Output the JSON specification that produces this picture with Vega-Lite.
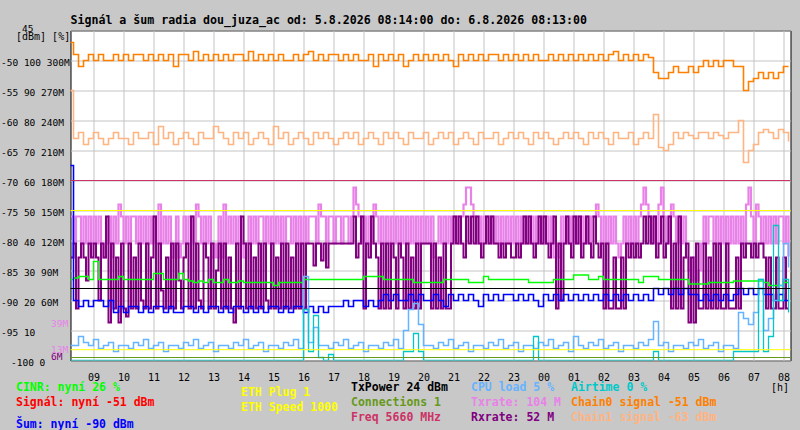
{
  "$schema": "https://vega.github.io/schema/vega-lite/v6.json",
  "width": 720,
  "height": 330,
  "autosize": "none",
  "padding": {"left": 70.5, "top": 30.5, "right": 9.5, "bottom": 69.5},
  "background": "#c8c8c8",
  "title": {
    "text": "Signál a šum radia dou_juza_ac od: 5.8.2026 08:14:00 do: 6.8.2026 08:13:00",
    "anchor": "start",
    "frame": "group",
    "font": "DejaVu Sans Mono",
    "fontSize": 11.6,
    "fontWeight": "bold",
    "color": "#000000",
    "baseline": "alphabetic",
    "offset": 7,
    "dy": 19
  },
  "config": {
    "view": {"fill": "#ffffff", "stroke": "#000000"},
    "axis": {"labelFont": "DejaVu Sans Mono", "titleFont": "DejaVu Sans Mono", "labelColor": "#000000", "labelFlush": false, "labelOverlap": false, "labelBound": false}
  },
  "datasets": {
    "sig": [
      {"m":494,"c0":-47,"c1":-55,"ci":27,"n":-67.5,"cpu":5,"air":0},
      {"m":500,"c0":-49,"c1":-63,"ci":27.5,"n":-90,"cpu":5,"air":0},
      {"m":510,"c0":-51,"c1":-62,"ci":28,"n":-91,"cpu":8,"air":0},
      {"m":520,"c0":-50,"c1":-64,"ci":28,"n":-90,"cpu":6,"air":0},
      {"m":530,"c0":-49,"c1":-63,"ci":27,"n":-91,"cpu":5,"air":0},
      {"m":540,"c0":-50,"c1":-62,"ci":33,"n":-90,"cpu":7,"air":0},
      {"m":550,"c0":-49,"c1":-63,"ci":27,"n":-90,"cpu":4,"air":0},
      {"m":560,"c0":-50,"c1":-64,"ci":27,"n":-91,"cpu":5,"air":0},
      {"m":570,"c0":-50,"c1":-63,"ci":27,"n":-90,"cpu":6,"air":0},
      {"m":580,"c0":-49,"c1":-62,"ci":27,"n":-92,"cpu":3,"air":0},
      {"m":590,"c0":-50,"c1":-63,"ci":28,"n":-91,"cpu":5,"air":0},
      {"m":600,"c0":-49,"c1":-63,"ci":27,"n":-92,"cpu":5,"air":0},
      {"m":610,"c0":-50,"c1":-64,"ci":27,"n":-91,"cpu":4,"air":0},
      {"m":620,"c0":-49,"c1":-62,"ci":27,"n":-91,"cpu":6,"air":0},
      {"m":630,"c0":-49,"c1":-63,"ci":27,"n":-92,"cpu":5,"air":0},
      {"m":640,"c0":-50,"c1":-63,"ci":27,"n":-91,"cpu":7,"air":0},
      {"m":650,"c0":-49,"c1":-62,"ci":27,"n":-92,"cpu":4,"air":0},
      {"m":660,"c0":-50,"c1":-64,"ci":29,"n":-91,"cpu":5,"air":0},
      {"m":670,"c0":-49,"c1":-61,"ci":29,"n":-91,"cpu":6,"air":0},
      {"m":680,"c0":-50,"c1":-63,"ci":27,"n":-92,"cpu":3,"air":0},
      {"m":690,"c0":-49,"c1":-62,"ci":27,"n":-91,"cpu":5,"air":0},
      {"m":700,"c0":-51,"c1":-64,"ci":27,"n":-92,"cpu":5,"air":0},
      {"m":710,"c0":-49,"c1":-63,"ci":29,"n":-92,"cpu":4,"air":0},
      {"m":720,"c0":-49,"c1":-62,"ci":27,"n":-91,"cpu":6,"air":0},
      {"m":730,"c0":-50,"c1":-63,"ci":26.5,"n":-91,"cpu":5,"air":0},
      {"m":740,"c0":-48.5,"c1":-64,"ci":26,"n":-92,"cpu":7,"air":0},
      {"m":750,"c0":-50,"c1":-62,"ci":26.5,"n":-91,"cpu":4,"air":0},
      {"m":760,"c0":-49,"c1":-63,"ci":26,"n":-92,"cpu":5,"air":0},
      {"m":770,"c0":-50,"c1":-63,"ci":27,"n":-91,"cpu":6,"air":0},
      {"m":780,"c0":-49,"c1":-61,"ci":26,"n":-91,"cpu":3,"air":0},
      {"m":790,"c0":-50,"c1":-62,"ci":26,"n":-92,"cpu":5,"air":0},
      {"m":800,"c0":-49,"c1":-63,"ci":27,"n":-91,"cpu":5,"air":0},
      {"m":810,"c0":-50,"c1":-64,"ci":26,"n":-92,"cpu":4,"air":0},
      {"m":820,"c0":-49,"c1":-62,"ci":26,"n":-91,"cpu":6,"air":0},
      {"m":830,"c0":-49,"c1":-63,"ci":26.5,"n":-91,"cpu":5,"air":0},
      {"m":840,"c0":-50,"c1":-62,"ci":26,"n":-92,"cpu":7,"air":0},
      {"m":850,"c0":-48.5,"c1":-64,"ci":26,"n":-91,"cpu":4,"air":0},
      {"m":860,"c0":-50,"c1":-63,"ci":26,"n":-92,"cpu":5,"air":0},
      {"m":870,"c0":-49,"c1":-62,"ci":26,"n":-91,"cpu":6,"air":0},
      {"m":880,"c0":-50,"c1":-63,"ci":26,"n":-92,"cpu":3,"air":0},
      {"m":890,"c0":-49,"c1":-64,"ci":26,"n":-91,"cpu":5,"air":0},
      {"m":900,"c0":-50,"c1":-61,"ci":25,"n":-91,"cpu":5,"air":0},
      {"m":910,"c0":-49,"c1":-63,"ci":26,"n":-92,"cpu":4,"air":0},
      {"m":920,"c0":-50,"c1":-62,"ci":26,"n":-91,"cpu":6,"air":0},
      {"m":930,"c0":-50,"c1":-64,"ci":26,"n":-92,"cpu":5,"air":0},
      {"m":940,"c0":-49,"c1":-63,"ci":26,"n":-91,"cpu":7,"air":0},
      {"m":950,"c0":-50,"c1":-62,"ci":26,"n":-91,"cpu":4,"air":0},
      {"m":960,"c0":-49,"c1":-63,"ci":27,"n":-92,"cpu":28,"air":17},
      {"m":970,"c0":-48.5,"c1":-64,"ci":27,"n":-91,"cpu":6,"air":3},
      {"m":980,"c0":-50,"c1":-62,"ci":27,"n":-92,"cpu":11,"air":15},
      {"m":990,"c0":-49,"c1":-63,"ci":27,"n":-91,"cpu":5,"air":1},
      {"m":1000,"c0":-50,"c1":-62,"ci":27,"n":-92,"cpu":5,"air":0},
      {"m":1010,"c0":-49,"c1":-63,"ci":27,"n":-91,"cpu":4,"air":2},
      {"m":1020,"c0":-49,"c1":-64,"ci":27,"n":-91,"cpu":6,"air":0},
      {"m":1030,"c0":-50,"c1":-63,"ci":27,"n":-91,"cpu":5,"air":0},
      {"m":1040,"c0":-49,"c1":-62,"ci":27,"n":-90,"cpu":7,"air":0},
      {"m":1050,"c0":-50,"c1":-63,"ci":27,"n":-91,"cpu":4,"air":0},
      {"m":1060,"c0":-49,"c1":-62,"ci":27,"n":-90,"cpu":5,"air":0},
      {"m":1070,"c0":-50,"c1":-64,"ci":27,"n":-90,"cpu":6,"air":0},
      {"m":1080,"c0":-50,"c1":-63,"ci":28,"n":-91,"cpu":3,"air":0},
      {"m":1090,"c0":-49,"c1":-62,"ci":28,"n":-90,"cpu":5,"air":0},
      {"m":1100,"c0":-51,"c1":-63,"ci":28,"n":-91,"cpu":5,"air":0},
      {"m":1110,"c0":-49,"c1":-64,"ci":28,"n":-90,"cpu":4,"air":0},
      {"m":1120,"c0":-50,"c1":-62,"ci":27,"n":-89,"cpu":6,"air":0},
      {"m":1130,"c0":-49,"c1":-63,"ci":27,"n":-90,"cpu":5,"air":0},
      {"m":1140,"c0":-50,"c1":-62,"ci":27,"n":-89,"cpu":7,"air":0},
      {"m":1150,"c0":-49,"c1":-63,"ci":27,"n":-90,"cpu":4,"air":0},
      {"m":1160,"c0":-51,"c1":-64,"ci":27,"n":-90,"cpu":10,"air":3},
      {"m":1170,"c0":-50,"c1":-62,"ci":27,"n":-89,"cpu":17,"air":3},
      {"m":1180,"c0":-49,"c1":-63,"ci":26,"n":-90,"cpu":19,"air":9},
      {"m":1190,"c0":-50,"c1":-63,"ci":26,"n":-89,"cpu":12,"air":3},
      {"m":1200,"c0":-49,"c1":-62,"ci":26,"n":-90,"cpu":5,"air":0},
      {"m":1210,"c0":-50,"c1":-64,"ci":26,"n":-90,"cpu":5,"air":0},
      {"m":1220,"c0":-49,"c1":-63,"ci":26,"n":-89,"cpu":4,"air":0},
      {"m":1230,"c0":-50,"c1":-62,"ci":26,"n":-90,"cpu":6,"air":0},
      {"m":1240,"c0":-49,"c1":-63,"ci":27,"n":-91,"cpu":5,"air":0},
      {"m":1250,"c0":-50,"c1":-62,"ci":27,"n":-89,"cpu":7,"air":0},
      {"m":1260,"c0":-51,"c1":-64,"ci":27,"n":-90,"cpu":4,"air":0},
      {"m":1270,"c0":-49,"c1":-63,"ci":27,"n":-89,"cpu":5,"air":0},
      {"m":1280,"c0":-50,"c1":-62,"ci":27,"n":-90,"cpu":6,"air":0},
      {"m":1290,"c0":-49,"c1":-63,"ci":26,"n":-89,"cpu":3,"air":0},
      {"m":1300,"c0":-50,"c1":-64,"ci":26,"n":-90,"cpu":5,"air":0},
      {"m":1310,"c0":-49,"c1":-62,"ci":26,"n":-91,"cpu":5,"air":0},
      {"m":1320,"c0":-50,"c1":-63,"ci":28,"n":-89,"cpu":4,"air":0},
      {"m":1330,"c0":-49,"c1":-63,"ci":27,"n":-90,"cpu":6,"air":0},
      {"m":1340,"c0":-49,"c1":-62,"ci":27,"n":-89,"cpu":5,"air":0},
      {"m":1350,"c0":-50,"c1":-64,"ci":27,"n":-90,"cpu":7,"air":0},
      {"m":1360,"c0":-49,"c1":-63,"ci":27,"n":-89,"cpu":4,"air":0},
      {"m":1370,"c0":-50,"c1":-62,"ci":27,"n":-89,"cpu":5,"air":0},
      {"m":1380,"c0":-49,"c1":-63,"ci":27,"n":-90,"cpu":6,"air":0},
      {"m":1390,"c0":-50,"c1":-62,"ci":27,"n":-89,"cpu":3,"air":0},
      {"m":1400,"c0":-49,"c1":-63,"ci":27,"n":-90,"cpu":5,"air":0},
      {"m":1410,"c0":-50,"c1":-64,"ci":26,"n":-89,"cpu":5,"air":0},
      {"m":1420,"c0":-49,"c1":-62,"ci":26,"n":-90,"cpu":4,"air":8},
      {"m":1430,"c0":-50,"c1":-63,"ci":26,"n":-91,"cpu":6,"air":0},
      {"m":1440,"c0":-50,"c1":-62,"ci":26,"n":-89,"cpu":5,"air":0},
      {"m":1450,"c0":-49,"c1":-63,"ci":26,"n":-90,"cpu":7,"air":0},
      {"m":1460,"c0":-50,"c1":-64,"ci":27,"n":-89,"cpu":4,"air":0},
      {"m":1470,"c0":-49,"c1":-63,"ci":27,"n":-90,"cpu":5,"air":0},
      {"m":1480,"c0":-50,"c1":-62,"ci":27,"n":-89,"cpu":6,"air":0},
      {"m":1490,"c0":-49,"c1":-63,"ci":27,"n":-90,"cpu":3,"air":0},
      {"m":1500,"c0":-50,"c1":-62,"ci":28.5,"n":-89,"cpu":8,"air":0},
      {"m":1510,"c0":-49,"c1":-63,"ci":28.5,"n":-90,"cpu":5,"air":0},
      {"m":1520,"c0":-50,"c1":-64,"ci":28.5,"n":-89,"cpu":4,"air":0},
      {"m":1530,"c0":-49,"c1":-62,"ci":27,"n":-90,"cpu":6,"air":0},
      {"m":1540,"c0":-50,"c1":-63,"ci":27,"n":-89,"cpu":5,"air":0},
      {"m":1550,"c0":-49,"c1":-62,"ci":28,"n":-90,"cpu":7,"air":0},
      {"m":1560,"c0":-50,"c1":-63,"ci":27,"n":-89,"cpu":4,"air":0},
      {"m":1570,"c0":-49,"c1":-64,"ci":27,"n":-90,"cpu":5,"air":0},
      {"m":1580,"c0":-48.5,"c1":-62,"ci":27,"n":-89,"cpu":6,"air":0},
      {"m":1590,"c0":-50,"c1":-63,"ci":27,"n":-90,"cpu":3,"air":0},
      {"m":1600,"c0":-49,"c1":-63,"ci":27,"n":-89,"cpu":5,"air":0},
      {"m":1610,"c0":-50,"c1":-62,"ci":27,"n":-90,"cpu":5,"air":0},
      {"m":1620,"c0":-49,"c1":-64,"ci":27,"n":-89,"cpu":4,"air":0},
      {"m":1630,"c0":-50,"c1":-63,"ci":26,"n":-90,"cpu":6,"air":0},
      {"m":1640,"c0":-49,"c1":-62,"ci":28,"n":-89,"cpu":5,"air":0},
      {"m":1650,"c0":-49.5,"c1":-63,"ci":28,"n":-90,"cpu":7,"air":0},
      {"m":1660,"c0":-52,"c1":-59,"ci":28,"n":-88,"cpu":13,"air":3},
      {"m":1670,"c0":-53,"c1":-64.5,"ci":27,"n":-89,"cpu":5,"air":0},
      {"m":1680,"c0":-53,"c1":-65,"ci":27,"n":-88,"cpu":6,"air":0},
      {"m":1690,"c0":-52,"c1":-64,"ci":27,"n":-89,"cpu":3,"air":0},
      {"m":1700,"c0":-51,"c1":-62,"ci":27,"n":-88,"cpu":5,"air":0},
      {"m":1710,"c0":-52,"c1":-63,"ci":27,"n":-89,"cpu":5,"air":0},
      {"m":1720,"c0":-52,"c1":-62,"ci":27,"n":-88,"cpu":4,"air":0},
      {"m":1730,"c0":-51,"c1":-62.5,"ci":25.5,"n":-89,"cpu":6,"air":0},
      {"m":1740,"c0":-52,"c1":-63,"ci":25.5,"n":-89,"cpu":5,"air":0},
      {"m":1750,"c0":-51,"c1":-62,"ci":25.5,"n":-90,"cpu":7,"air":0},
      {"m":1760,"c0":-50,"c1":-62,"ci":25.5,"n":-89,"cpu":4,"air":0},
      {"m":1770,"c0":-51,"c1":-63,"ci":26,"n":-90,"cpu":5,"air":0},
      {"m":1780,"c0":-50,"c1":-62,"ci":26,"n":-89,"cpu":6,"air":0},
      {"m":1790,"c0":-51,"c1":-62.5,"ci":26,"n":-90,"cpu":3,"air":0},
      {"m":1800,"c0":-50,"c1":-63,"ci":26,"n":-89,"cpu":5,"air":0},
      {"m":1810,"c0":-50,"c1":-62,"ci":26,"n":-90,"cpu":5,"air":0},
      {"m":1820,"c0":-51,"c1":-62,"ci":26.5,"n":-89,"cpu":4,"air":3},
      {"m":1830,"c0":-51,"c1":-60,"ci":26.5,"n":-88,"cpu":16,"air":3},
      {"m":1840,"c0":-55,"c1":-67,"ci":26.5,"n":-89,"cpu":14,"air":3},
      {"m":1850,"c0":-53.5,"c1":-65,"ci":26.5,"n":-88,"cpu":12,"air":3},
      {"m":1860,"c0":-53,"c1":-64,"ci":26.5,"n":-89,"cpu":16,"air":3},
      {"m":1870,"c0":-52,"c1":-62,"ci":26.5,"n":-88,"cpu":27,"air":27},
      {"m":1880,"c0":-53,"c1":-61.5,"ci":26,"n":-89,"cpu":10,"air":3},
      {"m":1890,"c0":-52,"c1":-62,"ci":25,"n":-89,"cpu":14,"air":8},
      {"m":1900,"c0":-53,"c1":-63,"ci":25,"n":-90,"cpu":20,"air":45},
      {"m":1910,"c0":-52,"c1":-61.5,"ci":25,"n":-89,"cpu":25,"air":20},
      {"m":1920,"c0":-51,"c1":-62,"ci":26,"n":-90,"cpu":39,"air":27},
      {"m":1930,"c0":-51,"c1":-63.5,"ci":26,"n":-90,"cpu":31,"air":16}
    ],
    "rate": [
      {"m":495,"tx":144,"rx":103},{"m":500,"tx":117,"rx":117},{"m":505,"tx":144,"rx":52},{"m":510,"tx":144,"rx":103},
      {"m":515,"tx":117,"rx":117},{"m":520,"tx":144,"rx":103},{"m":525,"tx":117,"rx":80},{"m":530,"tx":144,"rx":117},
      {"m":535,"tx":117,"rx":103},{"m":540,"tx":144,"rx":117},{"m":545,"tx":117,"rx":103},{"m":550,"tx":144,"rx":60},
      {"m":555,"tx":117,"rx":117},{"m":560,"tx":103,"rx":103},{"m":565,"tx":117,"rx":144},{"m":570,"tx":144,"rx":38},
      {"m":575,"tx":103,"rx":117},{"m":580,"tx":144,"rx":52},{"m":585,"tx":117,"rx":103},{"m":590,"tx":156,"rx":38},
      {"m":595,"tx":144,"rx":117},{"m":600,"tx":117,"rx":52},{"m":605,"tx":144,"rx":44},{"m":610,"tx":117,"rx":117},
      {"m":615,"tx":144,"rx":52},{"m":620,"tx":144,"rx":103},{"m":625,"tx":117,"rx":52},{"m":630,"tx":144,"rx":117},
      {"m":635,"tx":117,"rx":60},{"m":640,"tx":144,"rx":52},{"m":645,"tx":117,"rx":117},{"m":650,"tx":144,"rx":52},
      {"m":655,"tx":117,"rx":103},{"m":660,"tx":144,"rx":144},{"m":665,"tx":117,"rx":52},{"m":670,"tx":156,"rx":117},
      {"m":675,"tx":117,"rx":70},{"m":680,"tx":144,"rx":52},{"m":685,"tx":117,"rx":103},{"m":690,"tx":144,"rx":52},
      {"m":695,"tx":103,"rx":117},{"m":700,"tx":117,"rx":52},{"m":705,"tx":144,"rx":117},{"m":710,"tx":103,"rx":80},
      {"m":715,"tx":117,"rx":52},{"m":720,"tx":144,"rx":103},{"m":725,"tx":117,"rx":117},{"m":730,"tx":144,"rx":52},
      {"m":735,"tx":144,"rx":144},{"m":740,"tx":117,"rx":52},{"m":745,"tx":156,"rx":117},{"m":750,"tx":144,"rx":60},
      {"m":755,"tx":117,"rx":52},{"m":760,"tx":144,"rx":117},{"m":765,"tx":117,"rx":103},{"m":770,"tx":144,"rx":52},
      {"m":775,"tx":103,"rx":117},{"m":780,"tx":117,"rx":52},{"m":785,"tx":103,"rx":90},{"m":790,"tx":144,"rx":117},
      {"m":795,"tx":103,"rx":52},{"m":800,"tx":156,"rx":117},{"m":805,"tx":117,"rx":52},{"m":810,"tx":144,"rx":103},
      {"m":815,"tx":117,"rx":52},{"m":820,"tx":144,"rx":38},{"m":825,"tx":117,"rx":117},{"m":830,"tx":144,"rx":52},
      {"m":835,"tx":117,"rx":144},{"m":840,"tx":103,"rx":117},{"m":845,"tx":117,"rx":52},{"m":850,"tx":144,"rx":117},
      {"m":855,"tx":117,"rx":52},{"m":860,"tx":144,"rx":103},{"m":865,"tx":117,"rx":52},{"m":870,"tx":144,"rx":117},
      {"m":875,"tx":144,"rx":52},{"m":880,"tx":117,"rx":117},{"m":885,"tx":144,"rx":60},{"m":890,"tx":117,"rx":52},
      {"m":895,"tx":144,"rx":117},{"m":900,"tx":117,"rx":52},{"m":905,"tx":144,"rx":103},{"m":910,"tx":117,"rx":52},
      {"m":915,"tx":144,"rx":117},{"m":920,"tx":117,"rx":52},{"m":925,"tx":144,"rx":117},{"m":930,"tx":144,"rx":52},
      {"m":935,"tx":117,"rx":103},{"m":940,"tx":144,"rx":52},{"m":945,"tx":117,"rx":117},{"m":950,"tx":144,"rx":52},
      {"m":955,"tx":117,"rx":117},{"m":960,"tx":144,"rx":52},{"m":965,"tx":117,"rx":117},{"m":970,"tx":144,"rx":117},
      {"m":975,"tx":144,"rx":117},{"m":980,"tx":144,"rx":95},{"m":985,"tx":117,"rx":117},{"m":990,"tx":156,"rx":117},
      {"m":995,"tx":144,"rx":100},{"m":1000,"tx":144,"rx":117},{"m":1005,"tx":117,"rx":93},{"m":1010,"tx":144,"rx":117},
      {"m":1015,"tx":144,"rx":117},{"m":1020,"tx":117,"rx":117},{"m":1025,"tx":144,"rx":117},{"m":1030,"tx":144,"rx":117},
      {"m":1035,"tx":117,"rx":117},{"m":1040,"tx":144,"rx":117},{"m":1045,"tx":144,"rx":117},{"m":1050,"tx":117,"rx":117},
      {"m":1055,"tx":144,"rx":117},{"m":1060,"tx":173,"rx":144},{"m":1065,"tx":156,"rx":103},{"m":1070,"tx":144,"rx":117},
      {"m":1075,"tx":117,"rx":144},{"m":1080,"tx":144,"rx":52},{"m":1085,"tx":117,"rx":117},{"m":1090,"tx":144,"rx":103},
      {"m":1095,"tx":117,"rx":144},{"m":1100,"tx":156,"rx":117},{"m":1105,"tx":144,"rx":103},{"m":1110,"tx":117,"rx":52},
      {"m":1115,"tx":144,"rx":117},{"m":1120,"tx":117,"rx":52},{"m":1125,"tx":144,"rx":117},{"m":1130,"tx":117,"rx":52},
      {"m":1135,"tx":144,"rx":117},{"m":1140,"tx":117,"rx":103},{"m":1145,"tx":144,"rx":52},{"m":1150,"tx":117,"rx":117},
      {"m":1155,"tx":144,"rx":103},{"m":1160,"tx":117,"rx":52},{"m":1165,"tx":144,"rx":117},{"m":1170,"tx":117,"rx":52},
      {"m":1175,"tx":144,"rx":103},{"m":1180,"tx":117,"rx":52},{"m":1185,"tx":144,"rx":117},{"m":1190,"tx":117,"rx":52},
      {"m":1195,"tx":144,"rx":117},{"m":1200,"tx":117,"rx":117},{"m":1205,"tx":144,"rx":117},{"m":1210,"tx":117,"rx":117},
      {"m":1215,"tx":144,"rx":52},{"m":1220,"tx":103,"rx":117},{"m":1225,"tx":117,"rx":52},{"m":1230,"tx":144,"rx":103},
      {"m":1235,"tx":117,"rx":52},{"m":1240,"tx":144,"rx":117},{"m":1245,"tx":117,"rx":52},{"m":1250,"tx":144,"rx":52},
      {"m":1255,"tx":117,"rx":117},{"m":1260,"tx":144,"rx":144},{"m":1265,"tx":144,"rx":117},{"m":1270,"tx":117,"rx":144},
      {"m":1275,"tx":144,"rx":117},{"m":1280,"tx":156,"rx":103},{"m":1285,"tx":173,"rx":144},{"m":1290,"tx":173,"rx":117},
      {"m":1295,"tx":156,"rx":144},{"m":1300,"tx":144,"rx":117},{"m":1305,"tx":117,"rx":144},{"m":1310,"tx":144,"rx":117},
      {"m":1315,"tx":117,"rx":103},{"m":1320,"tx":144,"rx":117},{"m":1325,"tx":144,"rx":144},{"m":1330,"tx":117,"rx":117},
      {"m":1335,"tx":144,"rx":144},{"m":1340,"tx":117,"rx":117},{"m":1345,"tx":144,"rx":117},{"m":1350,"tx":117,"rx":103},
      {"m":1355,"tx":144,"rx":117},{"m":1360,"tx":117,"rx":103},{"m":1365,"tx":144,"rx":117},{"m":1370,"tx":117,"rx":117},
      {"m":1375,"tx":144,"rx":103},{"m":1380,"tx":117,"rx":103},{"m":1385,"tx":144,"rx":117},{"m":1390,"tx":117,"rx":103},
      {"m":1395,"tx":144,"rx":117},{"m":1400,"tx":117,"rx":144},{"m":1405,"tx":144,"rx":117},{"m":1410,"tx":117,"rx":144},
      {"m":1415,"tx":144,"rx":117},{"m":1420,"tx":117,"rx":103},{"m":1425,"tx":144,"rx":117},{"m":1430,"tx":117,"rx":144},
      {"m":1435,"tx":144,"rx":117},{"m":1440,"tx":117,"rx":144},{"m":1445,"tx":144,"rx":117},{"m":1450,"tx":117,"rx":103},
      {"m":1455,"tx":144,"rx":117},{"m":1460,"tx":103,"rx":144},{"m":1465,"tx":117,"rx":52},{"m":1470,"tx":103,"rx":117},
      {"m":1475,"tx":144,"rx":60},{"m":1480,"tx":117,"rx":117},{"m":1485,"tx":144,"rx":144},{"m":1490,"tx":117,"rx":117},
      {"m":1495,"tx":144,"rx":103},{"m":1500,"tx":117,"rx":144},{"m":1505,"tx":144,"rx":117},{"m":1510,"tx":117,"rx":144},
      {"m":1515,"tx":144,"rx":103},{"m":1520,"tx":117,"rx":117},{"m":1525,"tx":144,"rx":144},{"m":1530,"tx":117,"rx":117},
      {"m":1535,"tx":144,"rx":103},{"m":1540,"tx":144,"rx":144},{"m":1545,"tx":156,"rx":117},{"m":1550,"tx":144,"rx":103},
      {"m":1555,"tx":117,"rx":117},{"m":1560,"tx":144,"rx":52},{"m":1565,"tx":117,"rx":117},{"m":1570,"tx":144,"rx":52},
      {"m":1575,"tx":117,"rx":52},{"m":1580,"tx":144,"rx":103},{"m":1585,"tx":117,"rx":52},{"m":1590,"tx":103,"rx":52},
      {"m":1595,"tx":117,"rx":103},{"m":1600,"tx":144,"rx":52},{"m":1605,"tx":117,"rx":117},{"m":1610,"tx":144,"rx":103},
      {"m":1615,"tx":117,"rx":117},{"m":1620,"tx":144,"rx":103},{"m":1625,"tx":117,"rx":117},{"m":1630,"tx":144,"rx":103},
      {"m":1635,"tx":156,"rx":117},{"m":1640,"tx":173,"rx":144},{"m":1645,"tx":156,"rx":117},{"m":1650,"tx":144,"rx":144},
      {"m":1655,"tx":117,"rx":117},{"m":1660,"tx":144,"rx":144},{"m":1665,"tx":117,"rx":103},{"m":1670,"tx":156,"rx":117},
      {"m":1675,"tx":173,"rx":144},{"m":1680,"tx":144,"rx":103},{"m":1685,"tx":117,"rx":117},{"m":1690,"tx":144,"rx":144},
      {"m":1695,"tx":156,"rx":52},{"m":1700,"tx":144,"rx":117},{"m":1705,"tx":117,"rx":52},{"m":1710,"tx":144,"rx":144},
      {"m":1715,"tx":117,"rx":52},{"m":1720,"tx":144,"rx":103},{"m":1725,"tx":103,"rx":117},{"m":1730,"tx":90,"rx":38},
      {"m":1735,"tx":80,"rx":103},{"m":1740,"tx":103,"rx":38},{"m":1745,"tx":80,"rx":117},{"m":1750,"tx":90,"rx":52},
      {"m":1755,"tx":117,"rx":52},{"m":1760,"tx":144,"rx":117},{"m":1765,"tx":117,"rx":52},{"m":1770,"tx":144,"rx":103},
      {"m":1775,"tx":144,"rx":52},{"m":1780,"tx":117,"rx":117},{"m":1785,"tx":144,"rx":52},{"m":1790,"tx":117,"rx":117},
      {"m":1795,"tx":144,"rx":52},{"m":1800,"tx":117,"rx":52},{"m":1805,"tx":144,"rx":117},{"m":1810,"tx":117,"rx":52},
      {"m":1815,"tx":144,"rx":52},{"m":1820,"tx":117,"rx":52},{"m":1825,"tx":144,"rx":103},{"m":1830,"tx":117,"rx":52},
      {"m":1835,"tx":144,"rx":117},{"m":1840,"tx":117,"rx":103},{"m":1845,"tx":156,"rx":117},{"m":1850,"tx":173,"rx":117},
      {"m":1855,"tx":144,"rx":103},{"m":1860,"tx":117,"rx":117},{"m":1865,"tx":156,"rx":103},{"m":1870,"tx":144,"rx":117},
      {"m":1875,"tx":117,"rx":117},{"m":1880,"tx":144,"rx":103},{"m":1885,"tx":117,"rx":52},{"m":1890,"tx":144,"rx":103},
      {"m":1895,"tx":117,"rx":52},{"m":1900,"tx":144,"rx":52},{"m":1905,"tx":117,"rx":103},{"m":1910,"tx":144,"rx":52},
      {"m":1915,"tx":144,"rx":52},{"m":1920,"tx":117,"rx":103},{"m":1925,"tx":144,"rx":52},{"m":1930,"tx":104,"rx":52}
    ],
    "lines": [
      {"k":"Freq","p":60},
      {"k":"ETH Speed","p":50},
      {"k":"TxPower","p":24},
      {"k":"ETH Plug","p":3.6},
      {"k":"Connections","p":1}
    ]
  },
  "layer": [
    {
      "data": {"name": "sig"},
      "mark": {"type": "line", "interpolate": "step-after", "color": "#ffb482", "strokeWidth": 1.6},
      "encoding": {
        "x": {"field": "m", "type": "quantitative", "scale": {"domain": [494, 1934], "nice": false, "zero": false},
          "axis": {"orient": "bottom", "offset": 27, "values": [495, 1054, 1294, 1494, 1894],
            "labelExpr": "datum.value == 495 ? 'CINR: nyní 26 %' : datum.value == 1054 ? 'TxPower 24 dBm' : datum.value == 1294 ? 'CPU load 5 %' : datum.value == 1494 ? 'Airtime 0 %' : '[h]'",
            "labelColor": {"condition": [{"test": "datum.value == 495", "value": "#00ff00"}, {"test": "datum.value == 1294", "value": "#66b3ff"}, {"test": "datum.value == 1494", "value": "#00c8c8"}], "value": "#000000"},
            "labelFontWeight": {"condition": {"test": "datum.value == 1894", "value": "normal"}, "value": "bold"},
            "labelFontSize": {"condition": {"test": "datum.value == 1894", "value": 10}, "value": 11.5},
            "labelOffset": {"condition": {"test": "datum.value == 495", "value": -55.5}, "value": 0},
            "labelAlign": "left", "labelBaseline": "middle", "labelPadding": 0,
            "grid": false, "domain": false, "ticks": false, "tickSize": 0, "title": null}},
        "y": {"field": "c1", "type": "quantitative", "scale": {"domain": [-100, -45], "nice": false, "zero": false}, "axis": null}
      }
    },
    {
      "data": {"name": "sig"},
      "mark": {"type": "line", "interpolate": "step-after", "color": "#ff8000", "strokeWidth": 1.6},
      "encoding": {
        "x": {"field": "m", "type": "quantitative", "scale": {"domain": [494, 1934], "nice": false, "zero": false},
          "axis": {"orient": "bottom", "values": [540, 600, 660, 720, 780, 840, 900, 960, 1020, 1080, 1140, 1200, 1260, 1320, 1380, 1440, 1500, 1560, 1620, 1680, 1740, 1800, 1860, 1920],
            "labelExpr": "(floor(datum.value / 60) % 24 < 10 ? '0' : '') + floor(datum.value / 60) % 24",
            "labelFontSize": 10, "labelBaseline": "middle", "labelPadding": 17,
            "grid": true, "gridColor": "#c4c4c4", "domain": false, "ticks": false, "tickSize": 0, "title": null}},
        "y": {"field": "c0", "type": "quantitative", "scale": {"domain": [-100, -45], "nice": false, "zero": false},
          "axis": {"orient": "left", "values": [-100, -95, -90, -85, -80, -75, -70, -65, -60, -55, -50, -45],
            "labelExpr": "datum.value == -45 ? '45' : datum.value == -100 ? '-100 0' : datum.value == -95 ? '-95 10' : datum.value + ' ' + (datum.value + 100) * 2 + ' ' + (datum.value + 100) * 6 + 'M'",
            "labelAlign": "left", "labelBaseline": "middle", "labelFontSize": 9.5,
            "labelPadding": {"condition": [{"test": "datum.value == -45", "value": 49}, {"test": "datum.value == -100", "value": 60}], "value": 70},
            "labelOffset": {"condition": {"test": "datum.value == -45", "value": -2}, "value": 2},
            "grid": true, "gridColor": "#c4c4c4", "domain": false, "ticks": false, "tickSize": 0,
            "title": "[dBm] [%]", "titleAngle": 0, "titleAlign": "left", "titleBaseline": "middle", "titleX": -55, "titleY": 6,
            "titleFontSize": 10, "titleFontWeight": "normal", "titleColor": "#000000"}}
      }
    },
    {
      "data": {"name": "rate"},
      "mark": {"type": "line", "interpolate": "step-after", "color": "#e882e8", "strokeWidth": 2.2},
      "encoding": {
        "x": {"field": "m", "type": "quantitative", "scale": {"domain": [494, 1934], "nice": false, "zero": false},
          "axis": {"orient": "bottom", "offset": 32, "values": [834], "labelExpr": "'ETH Plug 1'",
            "labelColor": "#ffff00", "labelFontWeight": "bold", "labelFontSize": 11.5,
            "labelAlign": "left", "labelBaseline": "middle", "labelPadding": 0,
            "grid": false, "domain": false, "ticks": false, "tickSize": 0, "title": null}},
        "y": {"field": "tx", "type": "quantitative", "scale": {"domain": [0, 330], "nice": false, "zero": false},
          "axis": {"orient": "left", "values": [39, 13], "labelExpr": "datum.value + 'M'", "labelColor": "#e882e8",
            "labelAlign": "left", "labelBaseline": "middle", "labelPadding": 20, "labelOffset": 1.5, "labelFontSize": 9.5,
            "grid": false, "domain": false, "ticks": false, "tickSize": 0, "title": null}}
      }
    },
    {
      "data": {"name": "rate"},
      "mark": {"type": "line", "interpolate": "step-after", "color": "#800080", "strokeWidth": 2},
      "encoding": {
        "x": {"field": "m", "type": "quantitative", "scale": {"domain": [494, 1934], "nice": false, "zero": false},
          "axis": {"orient": "bottom", "offset": 42, "values": [495, 1054, 1294, 1494],
            "labelExpr": "datum.value == 495 ? 'Signál: nyní -51 dBm' : datum.value == 1054 ? 'Connections 1' : datum.value == 1294 ? 'Txrate: 104 M' : 'Chain0 signal -51 dBm'",
            "labelColor": {"condition": [{"test": "datum.value == 495", "value": "#ff0000"}, {"test": "datum.value == 1054", "value": "#66991a"}, {"test": "datum.value == 1294", "value": "#e882e8"}], "value": "#ff8000"},
            "labelOffset": {"condition": {"test": "datum.value == 495", "value": -55.5}, "value": 0},
            "labelFontWeight": "bold", "labelFontSize": 11.5,
            "labelAlign": "left", "labelBaseline": "middle", "labelPadding": 0,
            "grid": false, "domain": false, "ticks": false, "tickSize": 0, "title": null}},
        "y": {"field": "rx", "type": "quantitative", "scale": {"domain": [0, 330], "nice": false, "zero": false},
          "axis": {"orient": "left", "values": [6], "labelExpr": "datum.value + 'M'", "labelColor": "#800080",
            "labelAlign": "left", "labelBaseline": "middle", "labelPadding": 20, "labelOffset": 2, "labelFontSize": 9.5,
            "grid": false, "domain": false, "ticks": false, "tickSize": 0, "title": null}}
      }
    },
    {
      "data": {"name": "sig"},
      "mark": {"type": "line", "interpolate": "step-after", "color": "#00ff00", "strokeWidth": 1.3},
      "encoding": {
        "x": {"field": "m", "type": "quantitative", "scale": {"domain": [494, 1934], "nice": false, "zero": false},
          "axis": {"orient": "bottom", "offset": 47, "values": [834], "labelExpr": "'ETH Speed 1000'",
            "labelColor": "#ffff00", "labelFontWeight": "bold", "labelFontSize": 11.5,
            "labelAlign": "left", "labelBaseline": "middle", "labelPadding": 0,
            "grid": false, "domain": false, "ticks": false, "tickSize": 0, "title": null}},
        "y": {"field": "ci", "type": "quantitative", "scale": {"domain": [0, 110], "nice": false, "zero": false}, "axis": null}
      }
    },
    {
      "data": {"name": "sig"},
      "mark": {"type": "line", "interpolate": "step-after", "color": "#0000ff", "strokeWidth": 1.6},
      "encoding": {
        "x": {"field": "m", "type": "quantitative", "scale": {"domain": [494, 1934], "nice": false, "zero": false},
          "axis": {"orient": "bottom", "offset": 57, "values": [1054, 1294, 1494],
            "labelExpr": "datum.value == 1054 ? 'Freq 5660 MHz' : datum.value == 1294 ? 'Rxrate: 52 M' : 'Chain1 signal -63 dBm'",
            "labelColor": {"condition": [{"test": "datum.value == 1054", "value": "#cc3366"}, {"test": "datum.value == 1294", "value": "#800080"}], "value": "#ffb482"},
            "labelFontWeight": "bold", "labelFontSize": 11.5,
            "labelAlign": "left", "labelBaseline": "middle", "labelPadding": 0,
            "grid": false, "domain": false, "ticks": false, "tickSize": 0, "title": null}},
        "y": {"field": "n", "type": "quantitative", "scale": {"domain": [-100, -45], "nice": false, "zero": false}, "axis": null}
      }
    },
    {
      "data": {"name": "sig"},
      "mark": {"type": "line", "interpolate": "step-after", "color": "#66b3ff", "strokeWidth": 1.5},
      "encoding": {
        "x": {"field": "m", "type": "quantitative", "scale": {"domain": [494, 1934], "nice": false, "zero": false},
          "axis": {"orient": "bottom", "offset": 64, "values": [495], "labelExpr": "'Šum: nyní -90 dBm'",
            "labelColor": "#0000ff", "labelFontWeight": "bold", "labelFontSize": 11.5, "labelOffset": -55.5,
            "labelAlign": "left", "labelBaseline": "middle", "labelPadding": 0,
            "grid": false, "domain": false, "ticks": false, "tickSize": 0, "title": null}},
        "y": {"field": "cpu", "type": "quantitative", "scale": {"domain": [0, 110], "nice": false, "zero": false}, "axis": null}
      }
    },
    {
      "data": {"name": "sig"},
      "mark": {"type": "line", "interpolate": "step-after", "color": "#00c8c8", "strokeWidth": 1.3, "clip": true},
      "encoding": {
        "x": {"field": "m", "type": "quantitative", "scale": {"domain": [494, 1934], "nice": false, "zero": false}, "axis": null},
        "y": {"field": "air", "type": "quantitative", "scale": {"domain": [0, 110], "nice": false, "zero": false}, "axis": null}
      }
    },
    {
      "data": {"name": "lines"},
      "mark": {"type": "rule", "strokeWidth": 1},
      "encoding": {
        "y": {"field": "p", "type": "quantitative", "scale": {"domain": [0, 110], "nice": false, "zero": false}, "axis": null},
        "color": {"field": "k", "type": "nominal",
          "scale": {"domain": ["Freq", "ETH Speed", "TxPower", "ETH Plug", "Connections"], "range": ["#cc3366", "#ffff00", "#000000", "#ffff00", "#66991a"]},
          "legend": null}
      }
    }
  ],
  "resolve": {"scale": {"y": "independent"}, "axis": {"x": "independent"}}
}
